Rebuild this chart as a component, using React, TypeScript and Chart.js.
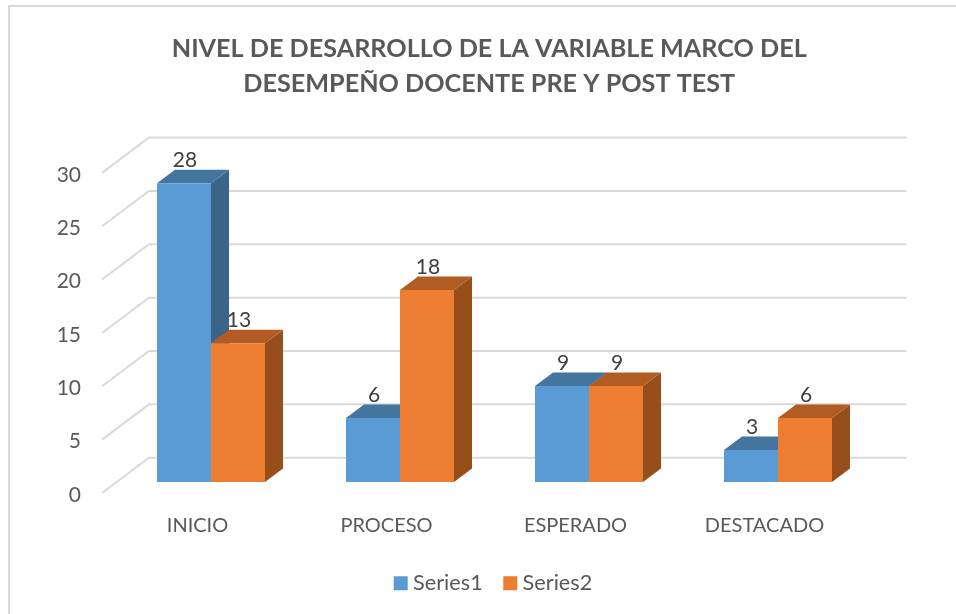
import React, { useEffect, useRef } from "react";
import { Chart, registerables } from "chart.js";

Chart.register(...registerables);

const categories = ["INICIO", "PROCESO", "ESPERADO", "DESTACADO"];
const series1 = [28, 6, 9, 3];
const series2 = [13, 18, 9, 6];
const yTicks = [0, 5, 10, 15, 20, 25, 30];
const titleLines = [
  "NIVEL DE DESARROLLO DE LA VARIABLE MARCO DEL",
  "DESEMPEÑO DOCENTE PRE Y POST TEST",
];
const FONT = "Lato, 'Open Sans', sans-serif";
const DEPTH_X = 18;
const DEPTH_Y = 13.5;

const shade = {
  0: { front: "#5B9BD5", top: "#44759F", side: "#3A6488" },
  1: { front: "#ED7D31", top: "#B25C24", side: "#964F1B" },
} as Record<number, { front: string; top: string; side: string }>;

const chrome = {
  id: "chrome",
  afterLayout(chart: any) {
    chart.titleBlock.left += 42;
    chart.titleBlock.right += 42;
    chart.legend.left += 48.5;
    chart.legend.right += 48.5;
  },
  beforeDraw(chart: any) {
    const { ctx } = chart;
    ctx.save();
    ctx.fillStyle = "#fff";
    ctx.fillRect(0, 0, chart.width, chart.height);
    ctx.strokeStyle = "#D9D9D9";
    ctx.lineWidth = 2;
    ctx.strokeRect(9, 6, 1100, 1100);
    ctx.restore();
  },
  beforeDatasetsDraw(chart: any) {
    const { ctx, scales } = chart;
    const { x, y } = scales;
    ctx.save();
    ctx.strokeStyle = "#D9D9D9";
    ctx.lineWidth = 2;
    yTicks.forEach((v) => {
      const p = y.getPixelForValue(v);
      ctx.beginPath();
      ctx.moveTo(x.left - 14.5, p + 11);
      ctx.lineTo(x.left + 32.5, p - 24.3);
      ctx.lineTo(x.right + 34, p - 24.3);
      ctx.stroke();
    });
    [0, 1].forEach((i) => {
      const meta = chart.getDatasetMeta(i);
      meta.data.forEach((bar: any) => {
        const l = bar.x - bar.width / 2;
        const r = bar.x + bar.width / 2;
        const t = bar.y;
        const b = bar.base;
        ctx.fillStyle = shade[i].side;
        ctx.beginPath();
        ctx.moveTo(r, t);
        ctx.lineTo(r + DEPTH_X, t - DEPTH_Y);
        ctx.lineTo(r + DEPTH_X, b - DEPTH_Y);
        ctx.lineTo(r, b);
        ctx.closePath();
        ctx.fill();
        ctx.fillStyle = shade[i].top;
        ctx.beginPath();
        ctx.moveTo(l, t);
        ctx.lineTo(l + DEPTH_X, t - DEPTH_Y);
        ctx.lineTo(r + DEPTH_X, t - DEPTH_Y);
        ctx.lineTo(r, t);
        ctx.closePath();
        ctx.fill();
      });
    });
    ctx.restore();
  },
  afterDatasetsDraw(chart: any) {
    const { ctx } = chart;
    ctx.save();
    ctx.fillStyle = "#404040";
    ctx.font = `21px ${FONT}`;
    ctx.textAlign = "center";
    ctx.textBaseline = "middle";
    [0, 1].forEach((i) => {
      chart.getDatasetMeta(i).data.forEach((bar: any, k: number) => {
        ctx.fillText(String(chart.data.datasets[i].data[k]), bar.x + 1, bar.y - 23);
      });
    });
    ctx.restore();
  },
};

export default function App() {
  const ref = useRef<HTMLCanvasElement>(null);
  useEffect(() => {
    const chart = new Chart(ref.current!, {
      type: "bar",
      plugins: [chrome],
      data: {
        labels: categories,
        datasets: [
          { label: "Series1", data: series1, backgroundColor: shade[0].front },
          { label: "Series2", data: series2, backgroundColor: shade[1].front },
        ],
      },
      options: {
        responsive: false,
        animation: false,
        events: [],
        layout: { padding: { left: 22, right: 83.5, top: 0, bottom: 10 } },
        datasets: { bar: { barPercentage: 1, categoryPercentage: 108 / 189 } },
        plugins: {
          tooltip: { enabled: false },
          title: {
            display: true,
            text: titleLines,
            color: "#595959",
            font: { family: FONT, size: 25.2, weight: "bold", lineHeight: 1.39 },
            padding: { top: 31, bottom: 60.8 },
          },
          legend: {
            position: "bottom",
            labels: {
              boxWidth: 3,
              boxHeight: 3,
              color: "#595959",
              padding: 26,
              font: { family: FONT, size: 21.7 },
              generateLabels: (c: any) =>
                c.data.datasets.map((d: any, i: number) => ({
                  text: d.label,
                  datasetIndex: i,
                  fillStyle: d.backgroundColor,
                  strokeStyle: d.backgroundColor,
                  lineWidth: 11,
                  fontColor: "#595959",
                  hidden: false,
                })),
            },
          },
        },
        scales: {
          x: {
            grid: { display: false },
            border: { display: false },
            afterFit: (s: any) => { s.height = 64.3; },
            ticks: {
              color: "#595959",
              font: { family: FONT, size: 20 },
              labelOffset: -13.5,
              padding: 24,
              maxRotation: 0,
              autoSkip: false,
            },
          },
          y: {
            min: 0,
            max: 30,
            grid: { display: false },
            border: { display: false },
            afterFit: (s: any) => { s.width = 94.5; },
            ticks: {
              stepSize: 5,
              color: "#595959",
              font: { family: FONT, size: 21 },
              labelOffset: 13,
              padding: 27.5,
            },
          },
        },
      },
    } as any);
    return () => chart.destroy();
  }, []);
  return (
    <div style={{ position: "absolute", left: 0, top: 0, width: 956, height: 614 }}>
      <canvas ref={ref} width={956} height={614} style={{ display: "block" }} />
    </div>
  );
}
